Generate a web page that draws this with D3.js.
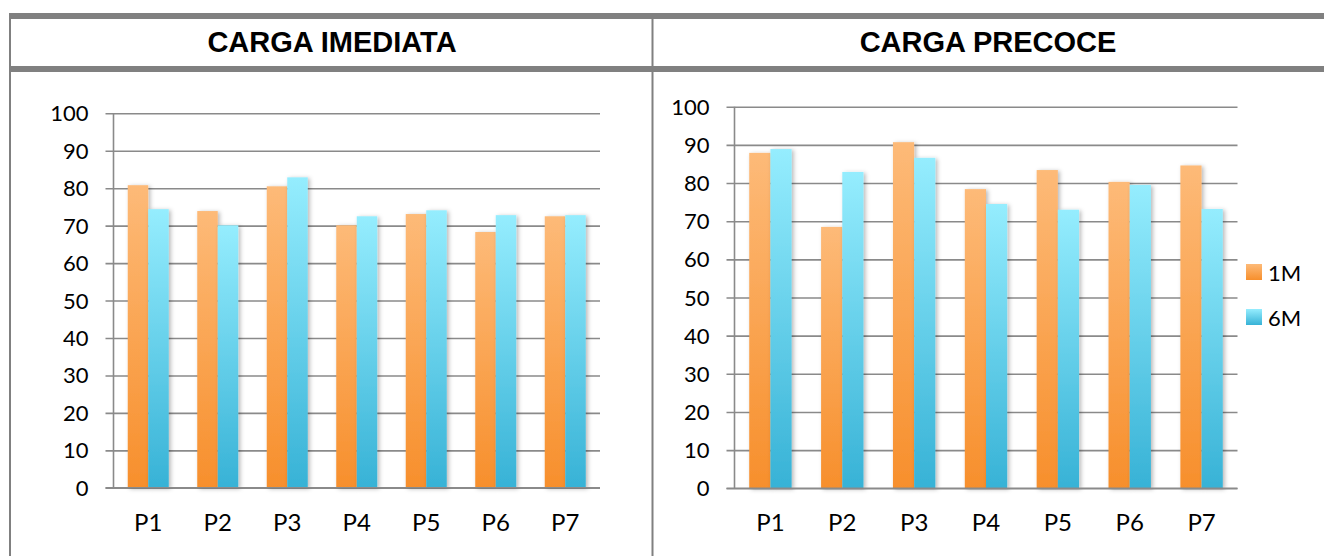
<!DOCTYPE html>
<html>
<head>
<meta charset="utf-8">
<script src="https://cdn.jsdelivr.net/npm/d3@7"></script>
<style>
  html, body { margin: 0; padding: 0; background: #fff; }
  svg { display: block; }
</style>
</head>
<body>
<svg id="chart" width="1324" height="556"></svg>
<script>
// Categories and series
const categories = ["P1", "P2", "P3", "P4", "P5", "P6", "P7"];
const seriesNames = ["1M", "6M"];

// CARGA IMEDIATA
const imediata1M = [80.8, 73.9, 80.5, 70.1, 73.1, 68.3, 72.5];
const imediata6M = [74.4, 70.1, 82.9, 72.5, 74.1, 72.8, 72.8];

// CARGA PRECOCE
const precoce1M = [87.9, 68.5, 90.7, 78.4, 83.4, 80.3, 84.6];
const precoce6M = [88.9, 82.9, 86.6, 74.5, 73.0, 79.5, 73.2];

const yTicks = [0, 10, 20, 30, 40, 50, 60, 70, 80, 90, 100];
const panelTitles = ["CARGA IMEDIATA", "CARGA PRECOCE"];

const svg = d3.select("#chart");
const defs = svg.append("defs");

// Vertical gradients for the two series
const gradStops = {
  "1M": ["#fdba78", "#f78f2c"],
  "6M": ["#95edfe", "#37b2d6"]
};
seriesNames.forEach((s, i) => {
  const g = defs.append("linearGradient")
    .attr("id", "grad" + i)
    .attr("x1", 0).attr("y1", 0).attr("x2", 0).attr("y2", 1);
  g.append("stop").attr("offset", "0%").attr("stop-color", gradStops[s][0]);
  g.append("stop").attr("offset", "100%").attr("stop-color", gradStops[s][1]);
});

// Soft drop shadow behind bars
const shadow = defs.append("filter").attr("id", "barShadow")
  .attr("x", "-20%").attr("y", "-5%").attr("width", "160%").attr("height", "115%");
shadow.append("feDropShadow")
  .attr("dx", 2).attr("dy", 1).attr("stdDeviation", 2)
  .attr("flood-color", "#000").attr("flood-opacity", 0.28);

// Table frame
const frameColor = "#808080";
const frame = svg.append("g");
frame.append("rect").attr("x", 9).attr("y", 13).attr("width", 1315).attr("height", 6).attr("fill", frameColor);
frame.append("rect").attr("x", 9).attr("y", 66).attr("width", 1315).attr("height", 6).attr("fill", frameColor);
frame.append("rect").attr("x", 9).attr("y", 13).attr("width", 2).attr("height", 543).attr("fill", frameColor);
frame.append("rect").attr("x", 651.5).attr("y", 13).attr("width", 2).attr("height", 543).attr("fill", frameColor);

// Panel headers
const titleCenters = [332, 988];
panelTitles.forEach((t, i) => {
  svg.append("text")
    .attr("x", titleCenters[i]).attr("y", 52)
    .attr("text-anchor", "middle")
    .attr("font-family", "'Liberation Sans', Arial, sans-serif")
    .attr("font-weight", "bold")
    .attr("font-size", 29)
    .attr("fill", "#000")
    .text(t);
});

const labelFont = "Lato, 'Open Sans', sans-serif";

function drawPanel(cfg) {
  const g = svg.append("g");
  const y = d3.scaleLinear().domain([0, 100]).range([cfg.y0, cfg.y100]);
  const x = d3.scaleBand().domain(categories)
    .range([cfg.xLeft, cfg.xRight])
    .paddingInner(0.41).paddingOuter(0.205);
  const xs = d3.scaleBand().domain(seriesNames).range([0, x.bandwidth()]);

  // Gridlines with tick stubs left of the axis
  const yAxis = d3.axisLeft(y).tickValues(yTicks)
    .tickSize(-(cfg.xRight - cfg.xLeft)).tickSizeOuter(0).tickFormat("");
  const ga = g.append("g").attr("transform", `translate(${cfg.xLeft},0)`).call(yAxis);
  ga.select(".domain").remove();
  ga.selectAll(".tick line").attr("stroke", "#8a8a8a").attr("stroke-width", 1.6)
    .attr("x1", -8);

  // Tick labels
  g.append("g").selectAll("text").data(yTicks).join("text")
    .attr("x", cfg.xLeft - 25)
    .attr("y", d => y(d) + 8)
    .attr("text-anchor", "end")
    .attr("font-family", labelFont)
    .attr("font-size", 22)
    .attr("fill", "#000")
    .text(d => d);

  // Vertical axis line
  g.append("line")
    .attr("x1", cfg.xLeft).attr("x2", cfg.xLeft)
    .attr("y1", y(100)).attr("y2", y(0))
    .attr("stroke", "#8a8a8a").attr("stroke-width", 1.6);

  // Bars
  const rows = categories.map((c, i) => ({ cat: c, values: [cfg.s1[i], cfg.s2[i]] }));
  const groups = g.append("g").selectAll("g").data(rows).join("g")
    .attr("transform", d => `translate(${x(d.cat)},0)`);
  groups.selectAll("rect").data(d => d.values.map((v, k) => ({ s: seriesNames[k], k, v })))
    .join("rect")
    .attr("x", d => xs(d.s))
    .attr("y", d => y(d.v))
    .attr("width", xs.bandwidth())
    .attr("height", d => y(0) - y(d.v))
    .attr("fill", d => `url(#grad${d.k})`)
    .attr("filter", "url(#barShadow)");

  // Baseline drawn over the bars
  g.append("line")
    .attr("x1", cfg.xLeft - 8).attr("x2", cfg.xRight)
    .attr("y1", y(0)).attr("y2", y(0))
    .attr("stroke", "#8a8a8a").attr("stroke-width", 1.6);

  // Category labels
  g.append("g").selectAll("text").data(categories).join("text")
    .attr("x", d => x(d) + x.bandwidth() / 2)
    .attr("y", cfg.y0 + 43)
    .attr("text-anchor", "middle")
    .attr("font-family", labelFont)
    .attr("font-size", 24)
    .attr("fill", "#000")
    .text(d => d);
}

drawPanel({ xLeft: 113.5, xRight: 600, y0: 487.8, y100: 113.3, s1: imediata1M, s2: imediata6M });
drawPanel({ xLeft: 734.5, xRight: 1237.5, y0: 488.3, y100: 106.7, s1: precoce1M, s2: precoce6M });

// Legend
const legend = svg.append("g").attr("transform", "translate(1246,264)");
seriesNames.forEach((s, i) => {
  const row = legend.append("g").attr("transform", `translate(0,${i * 45})`);
  row.append("rect").attr("width", 16).attr("height", 16).attr("fill", `url(#grad${i})`);
  row.append("text")
    .attr("x", 22).attr("y", 16.5)
    .attr("font-family", labelFont)
    .attr("font-size", 22)
    .attr("fill", "#000")
    .text(s);
});
</script>
</body>
</html>
